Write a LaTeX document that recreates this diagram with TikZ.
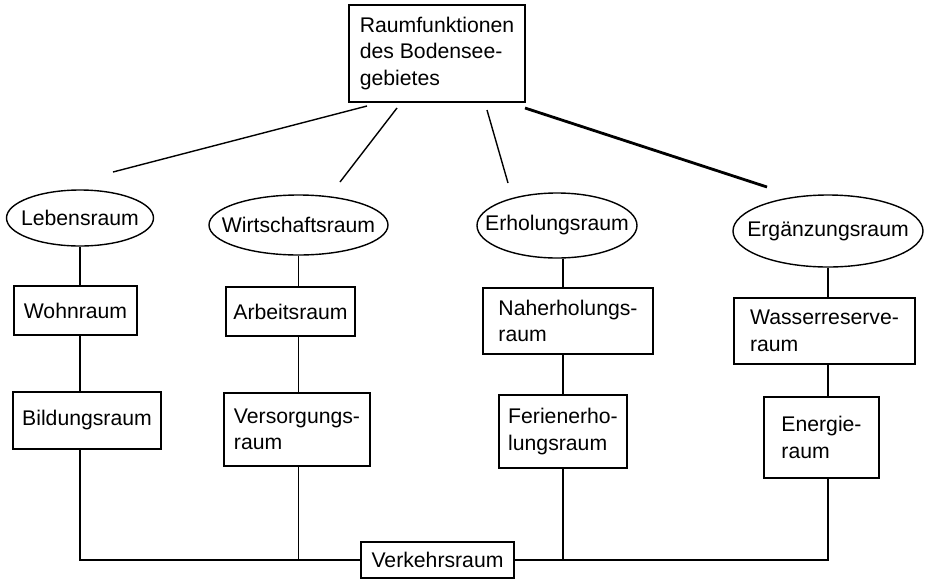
\documentclass[tikz,border=0pt]{standalone}
\usepackage{fontspec}
\setmainfont{Liberation Sans}
\usetikzlibrary{shapes.geometric}

\tikzset{
    room/.style={draw, rectangle, inner sep=0pt, align=left},
    oval/.style={draw, ellipse, inner sep=0pt},
}
\newcommand{\ovaltext}[1]{\makebox[0pt]{#1}}

\begin{document}
\begin{tikzpicture}[x=0.5pt, y=-0.5pt, line width=0.7pt, font=\fontsize{10.6}{13.3}\selectfont]
    \useasboundingbox (0,0) rectangle (927,580);

    % title box
    \node[room, minimum width=88pt, minimum height=48.5pt] (top) at (437,53.5) {Raumfunktionen\\des Bodensee-\\gebietes};

    % the four functions
    \node[oval, minimum width=73.5pt, minimum height=28pt] (leb) at (80,218) {\ovaltext{Lebensraum}};
    \node[oval, minimum width=89.5pt, minimum height=30pt] (wir) at (298.5,225) {\ovaltext{Wirtschaftsraum}};
    \node[oval, minimum width=80pt, minimum height=32.5pt] (erh) at (557,225.5) {\ovaltext{Erholungsraum}};
    \node[oval, minimum width=95pt, minimum height=36pt] (erg) at (828,231) {\ovaltext{Ergänzungsraum}};

    % sub spaces
    \node[room, minimum width=61.5pt, minimum height=24.5pt] (wohn) at (75.5,310.5) {Wohnraum};
    \node[room, minimum width=74pt, minimum height=28.5pt] (bild) at (87,420.5) {Bildungsraum};
    \node[room, minimum width=64.5pt, minimum height=24.5pt] (arb) at (290.5,311.5) {Arbeitsraum};
    \node[room, minimum width=73pt, minimum height=36.5pt] (vers) at (297,429.5) {Versorgungs-\\raum};
    \node[room, minimum width=85pt, minimum height=33pt] (nah) at (568,321) {Naherholungs-\\raum};
    \node[room, minimum width=64pt, minimum height=36.5pt] (fer) at (563,431.5) {Ferienerho-\\lungsraum};
    \node[room, minimum width=90.5pt, minimum height=33pt] (was) at (824.5,331) {Wasserreserve-\\raum};
    \node[room, minimum width=57.5pt, minimum height=40.5pt] (ene) at (821.5,437.5) {Energie-\\raum};

    % common base
    \node[room, minimum width=76.5pt, minimum height=18pt] (verk) at (437.5,560) {Verkehrsraum};

    % spokes from the title box (they stop short of the ovals)
    \coordinate (s1) at (367,106);  \coordinate (e1) at (113,172);
    \coordinate (s2) at (397,108);  \coordinate (e2) at (340,182);
    \coordinate (s3) at (487,110);  \coordinate (e3) at (508,183);
    \coordinate (s4) at (525,108);  \coordinate (e4) at (767,187);
    \draw (s1) -- (e1);
    \draw (s2) -- (e2);
    \draw (s3) -- (e3);
    \draw[line width=1.4pt] (s4) -- (e4);

    % columns
    \draw (leb.south) -- (leb |- wohn.north);
    \draw (leb |- wohn.south) -- (leb |- bild.north);
    \draw (leb |- bild.south) |- (verk.west);

    \draw (wir.south) -- (wir |- arb.north);
    \draw (wir |- arb.south) -- (wir |- vers.north);
    \draw (wir |- vers.south) -- (wir |- verk.west);

    \draw (erh.south -| fer) -- (fer |- nah.north);
    \draw (fer |- nah.south) -- (fer.north);
    \draw (fer.south) -- (fer |- verk.east);

    \draw (erg.south) -- (erg |- was.north);
    \draw (erg |- was.south) -- (erg |- ene.north);
    \draw (verk.east) -| (erg |- ene.south);
\end{tikzpicture}
\end{document}
